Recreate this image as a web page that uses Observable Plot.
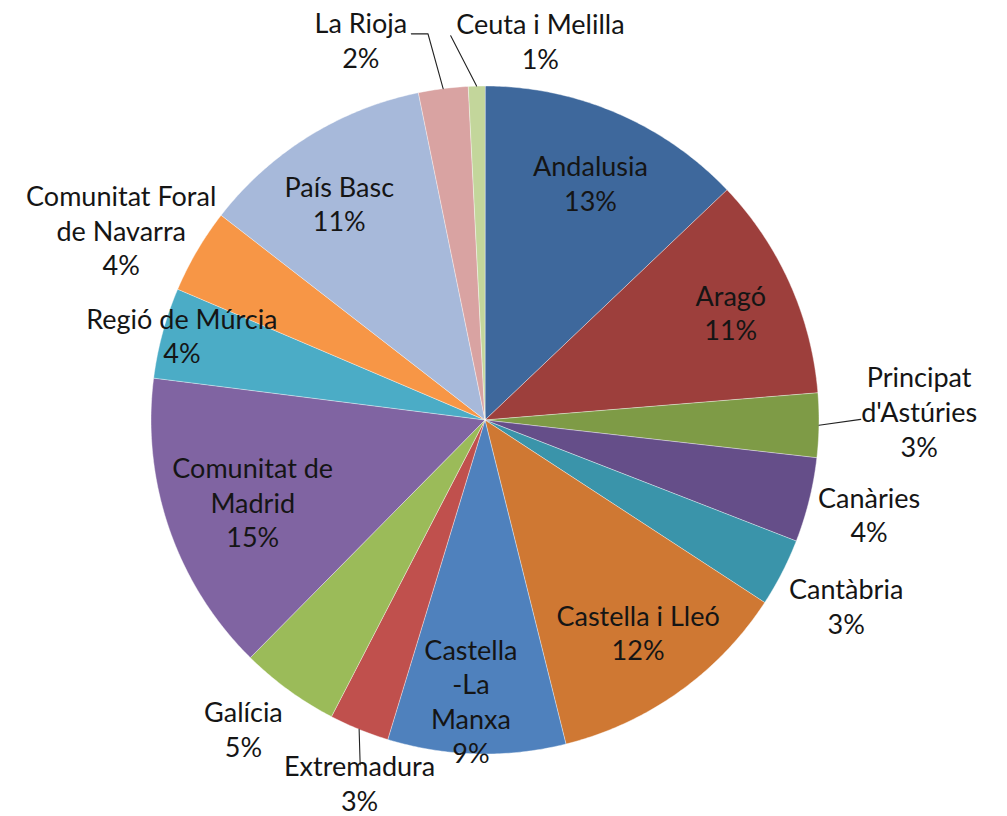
<!DOCTYPE html>
<html>
<head>
<meta charset="utf-8">
<script src="https://cdn.jsdelivr.net/npm/d3@7"></script>
<script src="https://cdn.jsdelivr.net/npm/@observablehq/plot@0.6"></script>
<style>
  html, body { margin: 0; padding: 0; background: #fff; }
  #chart { width: 1007px; height: 816px; }
</style>
</head>
<body>
<div id="chart"></div>
<script>
// ---- Data ----
const categories = ["Andalusia", "Aragó", "Principat d'Astúries", "Canàries", "Cantàbria",
  "Castella i Lleó", "Castella-La Manxa", "Extremadura", "Galícia", "Comunitat de Madrid",
  "Regió de Múrcia", "Comunitat Foral de Navarra", "País Basc", "La Rioja", "Ceuta i Melilla"];
const values = [12.9, 10.8, 3.1, 4.1, 3.3, 11.9, 8.6, 2.9, 4.8, 14.6, 4.4, 4.1, 11.3, 2.4, 0.8];
const labelNames = ["Andalusia", "Aragó", "Principat\nd'Astúries", "Canàries", "Cantàbria",
  "Castella i Lleó", "Castella\n-La\nManxa", "Extremadura", "Galícia", "Comunitat de\nMadrid",
  "Regió de Múrcia", "Comunitat Foral\nde Navarra", "País Basc", "La Rioja", "Ceuta i Melilla"];
const colors = ["#3E689C", "#9D3F3C", "#7E9B46", "#654E89", "#3A94AA", "#CF7833",
  "#4F81BD", "#C0504D", "#9BBB59", "#8064A2", "#4BACC6", "#F79646",
  "#A7B9DA", "#D9A3A2", "#C3D69B"];

// ---- Label layout (radius factor, angle shift in degrees) ----
const labelK = [0.77, 0.80, 1.30, 1.186, 1.22, 0.79, 0.85, 1.157, 1.18, 0.74, 0.94, 1.225, 0.775, 1.19, 1.14];
const labelShift = [1, 1, -1.7, 0.3, 0.4, 0, 1.4, -3.2, 1.8, -0.9, 0, -3.2, -2.4, -11, 9.8];
// leader lines: extra points [angleDeg, radius] after the slice edge point
const leaders = [
  {name: "Principat d'Astúries", pts: [[89.9, 1.125]]},
  {name: "Extremadura", pts: [[199.9, 1.098]]},
  {name: "La Rioja", pts: [[351.6, 1.169], [349.2, 1.177]]},
  {name: "Ceuta i Melilla", pts: [[354.9, 1.155]]}
];

// ---- Geometry ----
const pie = d3.pie().sort(null).value(d => d.value);
const rows = categories.map((name, i) => ({name, value: values[i], i}));
const arcs = pie(rows);
const total = d3.sum(values);
const polar = (a, r) => ({x: r * Math.sin(a), y: r * Math.cos(a)});
const rad = d => d * Math.PI / 180;

const slicePts = [];
arcs.forEach(a => {
  const name = a.data.name;
  slicePts.push({name, x: 0, y: 0});
  const n = Math.max(2, Math.ceil((a.endAngle - a.startAngle) / rad(0.5)));
  for (let k = 0; k <= n; k++) {
    const t = a.startAngle + (a.endAngle - a.startAngle) * k / n;
    slicePts.push({name, ...polar(t, 1)});
  }
});

const labels = arcs.map((a, i) => {
  const mid = (a.startAngle + a.endAngle) / 2 + rad(labelShift[i]);
  const p = polar(mid, labelK[i]);
  return {...p, text: labelNames[i] + "\n" + Math.round(a.data.value / total * 100) + "%"};
});

const leaderPts = [];
leaders.forEach(l => {
  const a = arcs[categories.indexOf(l.name)];
  const mid = (a.startAngle + a.endAngle) / 2;
  leaderPts.push({name: l.name, ...polar(mid, 1)});
  l.pts.forEach(([ang, r]) => leaderPts.push({name: l.name, ...polar(ang == null ? mid : rad(ang), r)}));
});

const chart = Plot.plot({
  width: 1007,
  height: 816,
  margin: 0,
  x: {domain: [-1, 1], range: [150.5, 818.5], axis: null},
  y: {domain: [-1, 1], range: [753.5, 85.5], axis: null},
  color: {domain: categories, range: colors},
  style: {fontFamily: "Lato, 'Open Sans', sans-serif", background: "#fff"},
  marks: [
    Plot.line(slicePts, {x: "x", y: "y", z: "name", fill: "name", stroke: "#ffffff", strokeWidth: 0.6, strokeOpacity: 0.7, curve: "linear-closed"}),
    Plot.line(leaderPts, {x: "x", y: "y", z: "name", stroke: "#222", strokeWidth: 1.1}),
    Plot.text(labels, {x: "x", y: "y", text: "text", fontSize: 27, lineHeight: 1.28, dy: -3, fill: "#151515", textAnchor: "middle"})
  ]
});
document.getElementById("chart").appendChild(chart);
</script>
</body>
</html>
